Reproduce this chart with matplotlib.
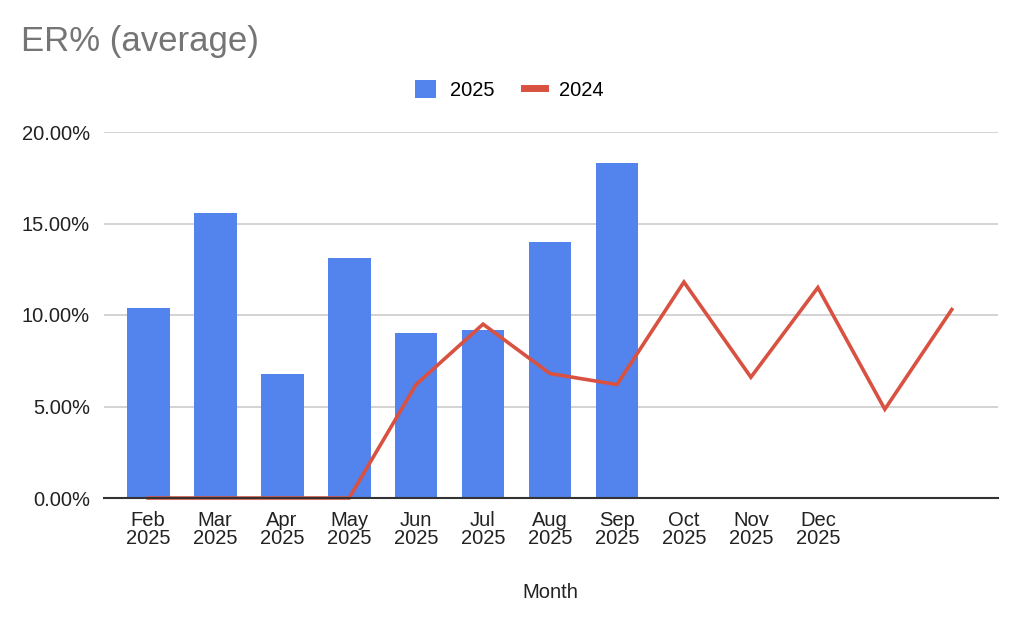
import numpy as np
import matplotlib.pyplot as plt
from matplotlib.patches import Patch
from matplotlib.lines import Line2D

plt.rcParams['font.family'] = ['Liberation Sans', 'DejaVu Sans']

months = ['Feb\n2025', 'Mar\n2025', 'Apr\n2025', 'May\n2025', 'Jun\n2025',
          'Jul\n2025', 'Aug\n2025', 'Sep\n2025', 'Oct\n2025', 'Nov\n2025',
          'Dec\n2025', '', '']
er_2025 = [10.4, 15.6, 6.8, 13.1, 9.0, 9.2, 14.0, 18.3]
er_2024 = [0, 0, 0, 0, 6.2, 9.5, 6.8, 6.2, 11.8, 6.6, 11.5, 4.85, 10.3]
yticks = [0, 5, 10, 15, 20]

blue = '#5383ec'
red = '#d95140'
fs = 14.5

fig = plt.figure(figsize=(10.24, 6.34), dpi=100)
ax = fig.add_axes([104/1024, 1 - 498/634, (998 - 104)/1024, (498 - 132)/634])

x = np.arange(len(months))
ax.bar(x[:len(er_2025)], er_2025, width=0.64, color=blue, zorder=2)
ax.plot(x, er_2024, color=red, lw=2.6, zorder=3, clip_on=False,
        solid_joinstyle='miter')

ax.set_xlim(-0.66, 12.69)
ax.set_ylim(0, 20)
ax.set_yticks(yticks)
ax.set_yticklabels(['%.2f%%' % v for v in yticks], fontsize=fs, color='#222222')
ax.set_xticks(x)
ax.set_xticklabels(months, fontsize=fs, color='#222222', linespacing=0.95)
ax.tick_params(axis='both', length=0)
ax.tick_params(axis='x', pad=9)
ax.tick_params(axis='y', pad=10)
ax.grid(axis='y', color='#cccccc', lw=1.2, zorder=0)
ax.set_axisbelow(True)
for s in ['top', 'right', 'left']:
    ax.spines[s].set_visible(False)
ax.spines['bottom'].set_color('#333333')
ax.spines['bottom'].set_linewidth(1.5)
ax.spines['bottom'].set_zorder(4)

fig.text(21/1024, 1 - 41/634, 'ER% (average)', fontsize=25, color='#757575',
         va='center', ha='left')
fig.text(550/1024, 1 - 592/634, 'Month', fontsize=fs, color='#222222',
         ha='center', va='center')

handles = [Patch(facecolor=blue, edgecolor='none'),
           Line2D([0], [0], color=red, lw=5)]
fig.legend(handles, ['2025', '2024'], loc='center', bbox_to_anchor=(509/1024, 1 - 90/634),
           ncol=2, frameon=False, fontsize=fs, handlelength=1.05, handleheight=1.0,
           columnspacing=1.45, handletextpad=0.7)

fig.savefig('out.png', dpi=100)
